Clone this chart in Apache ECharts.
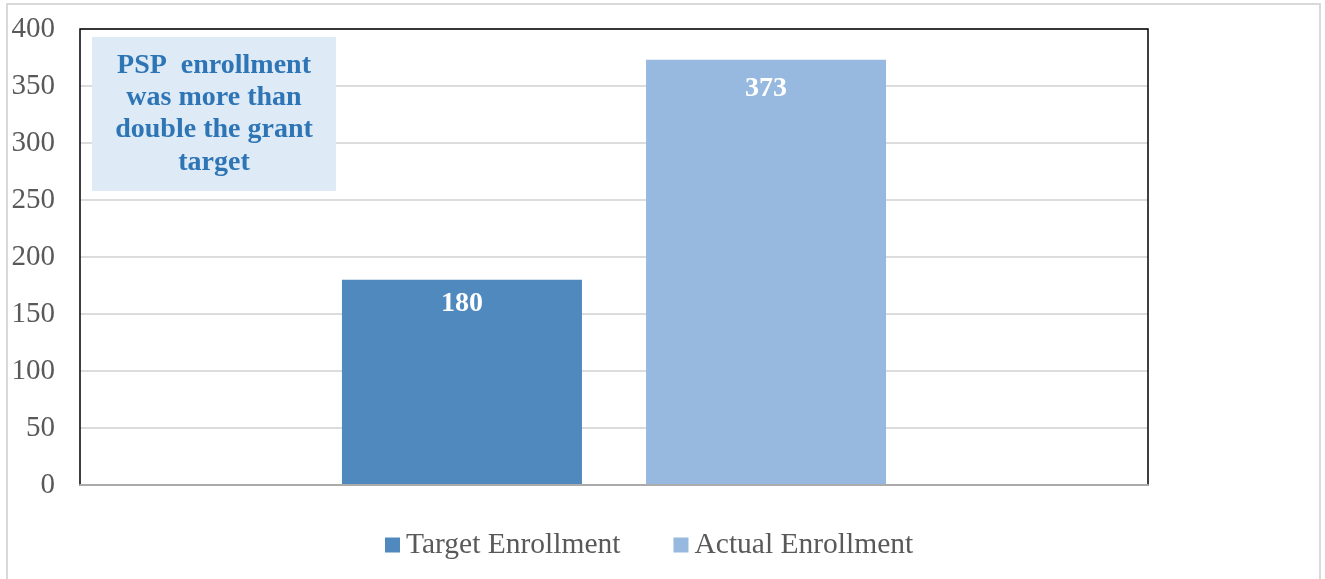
<!DOCTYPE html>
<html>
<head>
<meta charset="utf-8">
<script src="https://cdn.jsdelivr.net/npm/echarts@6/dist/echarts.min.js"></script>
<style>
html,body{margin:0;padding:0;background:#fff;}
#chart{width:1325px;height:579px;}
</style>
</head>
<body>
<div id="chart"></div>
<script>
const categories = [''];
const seriesNames = ['Target Enrollment', 'Actual Enrollment'];
const targetValues = [180];
const actualValues = [373];
const yTicks = { min: 0, max: 400, interval: 50 };
const annotationText = 'PSP  enrollment\nwas more than\ndouble the grant\ntarget';

const chart = echarts.init(document.getElementById('chart'));
const serif = '"Liberation Serif", "Times New Roman", serif';
function labelStyle(dist) {
  return {
    show: true, position: 'insideTop', distance: dist,
    color: '#ffffff', fontFamily: serif, fontWeight: 'bold', fontSize: 28
  };
}
chart.setOption({
  animation: false,
  backgroundColor: '#ffffff',
  grid: {
    left: 80, right: 177, top: 29, bottom: 94, z: 5,
    show: true, borderColor: '#000000', borderWidth: 1.5, backgroundColor: 'transparent'
  },
  legend: {
    bottom: 14, left: 380,
    itemWidth: 15, itemHeight: 15, itemGap: 53,
    icon: 'rect',
    textStyle: { fontFamily: serif, fontSize: 29.5, color: '#595959', padding: [0, 0, 0, 1] },
    data: seriesNames
  },
  xAxis: {
    type: 'category', data: categories, z: 8,
    axisLine: { show: true, lineStyle: { color: '#ABABAB', width: 2 } },
    axisTick: { show: false }, axisLabel: { show: false }
  },
  yAxis: {
    type: 'value', min: yTicks.min, max: yTicks.max, interval: yTicks.interval,
    axisLine: { show: false }, axisTick: { show: false },
    axisLabel: { fontFamily: serif, fontSize: 29, color: '#595959', margin: 25 },
    splitLine: { lineStyle: { color: '#DCDCDC', width: 2 } }
  },
  series: [
    { name: seriesNames[0], type: 'bar', data: targetValues, barWidth: 240, barGap: '26.7%',
      itemStyle: { color: '#4F89BD' }, label: labelStyle(10) },
    { name: seriesNames[1], type: 'bar', data: actualValues, barWidth: 240,
      itemStyle: { color: '#97B9DF' }, label: labelStyle(15) }
  ],
  graphic: [
    { type: 'rect', x: 7, y: 4, z: -10, silent: true,
      shape: { x: 0, y: 0, width: 1313, height: 600 },
      style: { fill: 'none', stroke: '#D9D9D9', lineWidth: 2 } },
    { type: 'rect', x: 92, y: 37, z: 50,
      shape: { x: 0, y: 0, width: 244, height: 154 },
      style: { fill: '#DEEAF6' } },
    { type: 'text', x: 214, y: 114, z: 51,
      style: {
        text: annotationText,
        align: 'center', verticalAlign: 'middle',
        fontFamily: serif, fontWeight: 'bold', fontSize: 28, lineHeight: 32.3,
        fill: '#2E75B6'
      } }
  ]
});
</script>
</body>
</html>
